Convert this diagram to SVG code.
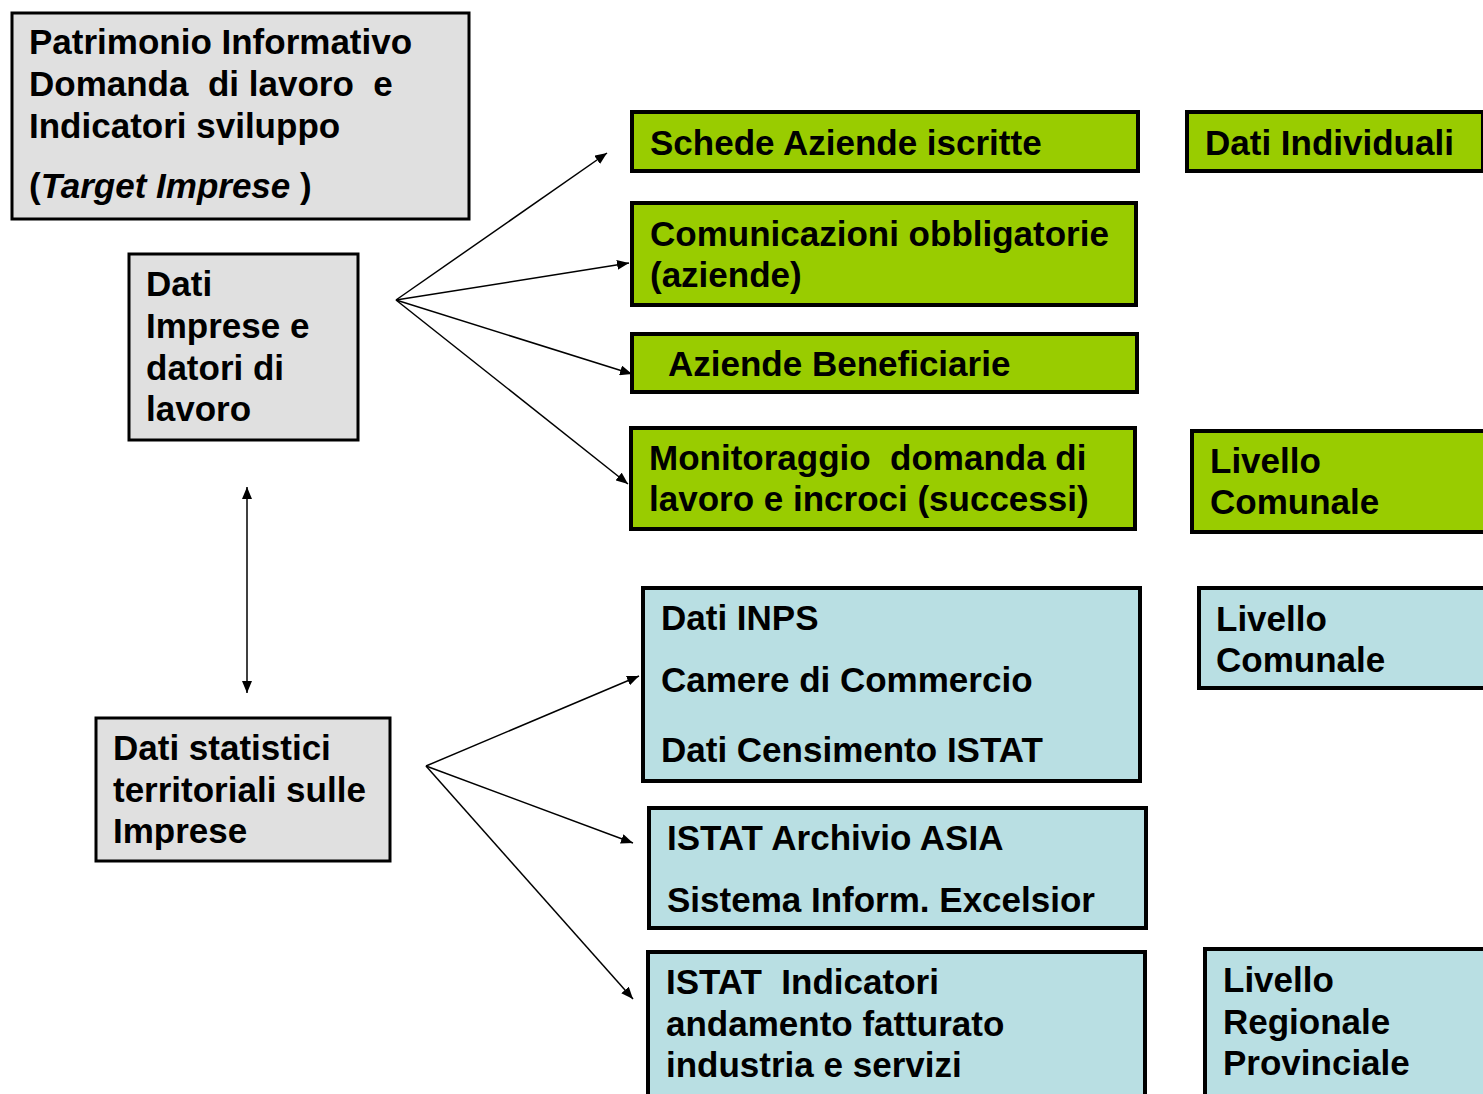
<svg xmlns="http://www.w3.org/2000/svg" width="1483" height="1094" viewBox="0 0 1483 1094">
<style>
.grey{fill:#e0e0e0;stroke:#000;stroke-width:3}
.green{fill:#99cc00;stroke:#000;stroke-width:4}
.blue{fill:#b9dfe3;stroke:#000;stroke-width:4}
text{font-family:"Liberation Sans",Arial,sans-serif;font-weight:bold;font-size:35px;fill:#000}
.c{stroke:#000;stroke-width:1.5;fill:none;marker-end:url(#ah)}
</style>
<defs>
<marker id="ah" viewBox="0 0 12 10" refX="12" refY="5" markerWidth="12" markerHeight="10" markerUnits="userSpaceOnUse" orient="auto-start-reverse">
<path d="M0,0 L12,5 L0,10 z" fill="#000"/>
</marker>
</defs>
<rect width="1483" height="1094" fill="#fff"/>
<g id="connectors">
<line class="c" x1="396" y1="300" x2="607" y2="153"/>
<line class="c" x1="396" y1="300" x2="629" y2="263"/>
<line class="c" x1="396" y1="300" x2="632" y2="374"/>
<line class="c" x1="396" y1="300" x2="628" y2="484"/>
<line class="c" x1="426" y1="766" x2="639" y2="676"/>
<line class="c" x1="426" y1="766" x2="633" y2="843"/>
<line class="c" x1="426" y1="766" x2="633" y2="999"/>
<line class="c" x1="247" y1="487" x2="247" y2="693" style="marker-start:url(#ah)"/>
</g>
<g id="n-patrimonio">
<rect class="grey" x="12" y="13" width="457" height="206"/>
<text x="29" y="54">Patrimonio Informativo</text>
<text x="29" y="96" xml:space="preserve">Domanda  di lavoro  e</text>
<text x="29" y="138">Indicatori sviluppo</text>
<text x="29" y="198">(<tspan font-style="italic">Target Imprese</tspan> )</text>
</g>
<g id="n-dati-imprese">
<rect class="grey" x="129" y="254" width="229" height="186"/>
<text x="146" y="296">Dati</text>
<text x="146" y="338">Imprese e</text>
<text x="146" y="380">datori di</text>
<text x="146" y="421">lavoro</text>
</g>
<g id="n-dati-statistici">
<rect class="grey" x="96" y="718" width="294" height="143"/>
<text x="113" y="760">Dati statistici</text>
<text x="113" y="802">territoriali sulle</text>
<text x="113" y="843">Imprese</text>
</g>
<g id="n-schede">
<rect class="green" x="632" y="112" width="506" height="59"/>
<text x="650" y="155">Schede Aziende iscritte</text>
</g>
<g id="n-dati-individuali">
<rect class="green" x="1187" y="112" width="296" height="59"/>
<text x="1205" y="155">Dati Individuali</text>
</g>
<g id="n-comunicazioni">
<rect class="green" x="632" y="203" width="504" height="102"/>
<text x="650" y="246">Comunicazioni obbligatorie</text>
<text x="650" y="287">(aziende)</text>
</g>
<g id="n-beneficiarie">
<rect class="green" x="632" y="334" width="505" height="58"/>
<text x="668" y="376">Aziende Beneficiarie</text>
</g>
<g id="n-monitoraggio">
<rect class="green" x="631" y="428" width="504" height="101"/>
<text x="649" y="470" xml:space="preserve">Monitoraggio  domanda di</text>
<text x="649" y="511">lavoro e incroci (successi)</text>
</g>
<g id="n-livello-comunale-1">
<rect class="green" x="1192" y="431" width="295" height="101"/>
<text x="1210" y="473">Livello</text>
<text x="1210" y="514">Comunale</text>
</g>
<g id="n-inps">
<rect class="blue" x="643" y="588" width="497" height="193"/>
<text x="661" y="630">Dati INPS</text>
<text x="661" y="692">Camere di Commercio</text>
<text x="661" y="762">Dati Censimento ISTAT</text>
</g>
<g id="n-livello-comunale-2">
<rect class="blue" x="1199" y="588" width="288" height="100"/>
<text x="1216" y="631">Livello</text>
<text x="1216" y="672">Comunale</text>
</g>
<g id="n-asia">
<rect class="blue" x="649" y="808" width="497" height="120"/>
<text x="667" y="850">ISTAT Archivio ASIA</text>
<text x="667" y="912">Sistema Inform. Excelsior</text>
</g>
<g id="n-indicatori">
<rect class="blue" x="648" y="952" width="497" height="150"/>
<text x="666" y="994" xml:space="preserve">ISTAT  Indicatori</text>
<text x="666" y="1036">andamento fatturato</text>
<text x="666" y="1077">industria e servizi</text>
</g>
<g id="n-livello-regionale">
<rect class="blue" x="1205" y="949" width="282" height="153"/>
<text x="1223" y="992">Livello</text>
<text x="1223" y="1034">Regionale</text>
<text x="1223" y="1075">Provinciale</text>
</g>
</svg>
